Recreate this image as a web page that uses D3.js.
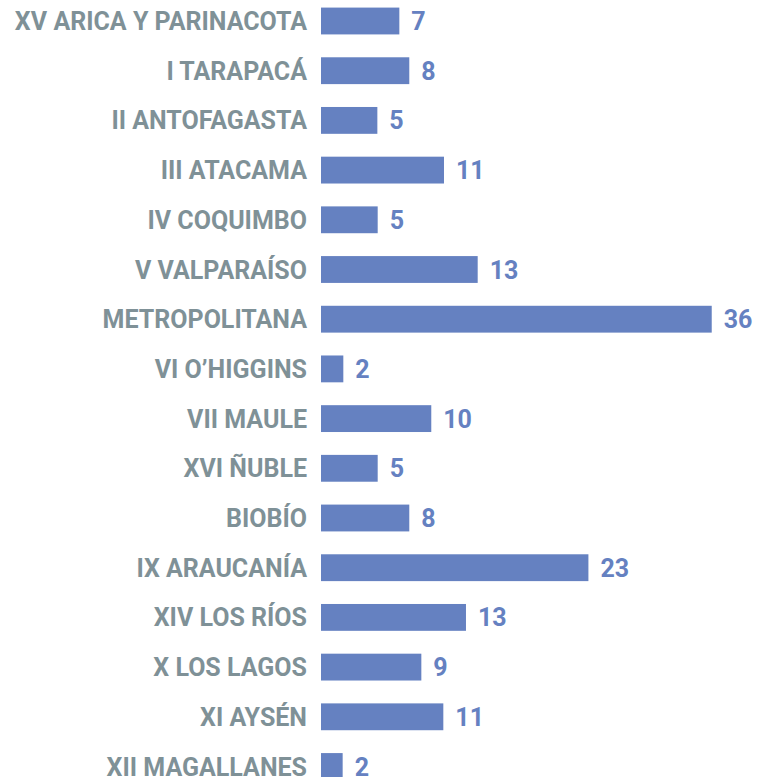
<html>
<head>
    <meta content="text/html;charset=utf-8" http-equiv="Content-Type"/>
    <style>
        body { margin: 0; background: #fff; }
        text { font-family: Roboto, "Noto Sans", sans-serif; font-weight: 700; }
    </style>
</head>
<body>
<svg id="chart" width="757" height="777"></svg>
<script src="https://d3js.org/d3.v7.min.js"></script>
<script>
    const regions = [
        "XV ARICA Y PARINACOTA", "I TARAPACÁ", "II ANTOFAGASTA", "III ATACAMA",
        "IV COQUIMBO", "V VALPARAÍSO", "METROPOLITANA", "VI O’HIGGINS",
        "VII MAULE", "XVI ÑUBLE", "BIOBÍO", "IX ARAUCANÍA",
        "XIV LOS RÍOS", "X LOS LAGOS", "XI AYSÉN", "XII MAGALLANES"
    ];
    // value labels printed next to each bar
    const counts = [7, 8, 5, 11, 5, 13, 36, 2, 10, 5, 8, 23, 13, 9, 11, 2];
    // bar lengths as drawn in the picture (they do not follow the labels exactly)
    const barValues = [7.09, 7.99, 5.1, 11.13, 5.13, 14.18, 35.36, 2.02, 9.98, 5.13, 7.99, 24.2, 13.12, 9.08, 11.07, 1.96];

    const barColor = "#6581c1";
    const labelColor = "#7f9197";

    const svg = d3.select("#chart");

    const x = d3.scaleLinear()
        .domain([0, 36])
        .range([321, 321 + 36 * 11.05]);

    const y = d3.scaleBand()
        .domain(regions)
        .range([-3.85, 791.35])
        .paddingInner(0.46)
        .paddingOuter(0.23);

    svg.append("g")
        .selectAll("rect")
        .data(regions)
        .join("rect")
        .attr("x", x(0))
        .attr("y", d => y(d))
        .attr("width", (d, i) => x(barValues[i]) - x(0))
        .attr("height", y.bandwidth())
        .attr("fill", barColor);

    svg.append("g")
        .selectAll("text")
        .data(regions)
        .join("text")
        .attr("x", 307)
        .attr("y", d => y(d) + y.bandwidth() / 2)
        .attr("dy", "0.36em")
        .attr("text-anchor", "end")
        .attr("font-size", 25)
        .attr("fill", labelColor)
        .text(d => d);

    svg.append("g")
        .selectAll("text")
        .data(regions)
        .join("text")
        .attr("x", (d, i) => x(barValues[i]) + 12)
        .attr("y", d => y(d) + y.bandwidth() / 2)
        .attr("dy", "0.36em")
        .attr("font-size", 25)
        .attr("fill", barColor)
        .text((d, i) => counts[i]);
</script>
</body>
</html>
